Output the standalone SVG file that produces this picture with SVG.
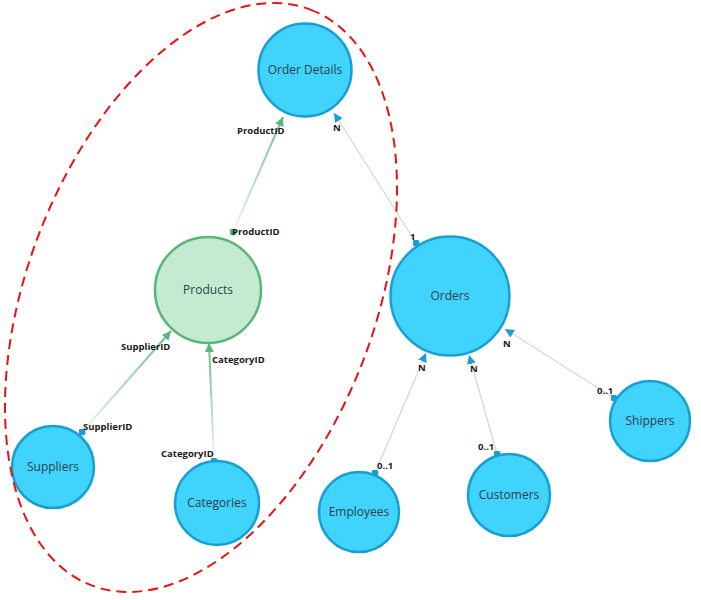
<svg xmlns="http://www.w3.org/2000/svg" width="701" height="600" viewBox="0 0 701 600">
<style>
.node-c{fill:#40d3fc;stroke:#179fd3;stroke-width:2.5}
.node-g{fill:#c3ebd0;stroke:#5ab579;stroke-width:2.5}
.nl{font-family:"Open Sans","Noto Sans",sans-serif;font-size:12px;fill:#2e3d48;text-anchor:middle}
.el{font-family:"Open Sans","Noto Sans",sans-serif;font-size:9.5px;font-weight:bold;fill:#1a1a1a}
.gray{stroke:#d4d4d4;stroke-width:1.2;fill:none}
.green{stroke-width:2;fill:none}
</style>
<defs>
<marker id="arB" viewBox="0 0 10 10" refX="10" refY="5" markerWidth="9" markerHeight="9" markerUnits="userSpaceOnUse" orient="auto"><path d="M0,0 L10,5 L0,10 Z" fill="#1b9dd6"/></marker>
<marker id="arG" viewBox="0 0 10 10" refX="10" refY="5" markerWidth="9" markerHeight="9" markerUnits="userSpaceOnUse" orient="auto"><path d="M0,0 L10,5 L0,10 Z" fill="#5ab579"/></marker>
<marker id="dB" viewBox="0 0 10 10" refX="5" refY="5" markerWidth="7" markerHeight="7" markerUnits="userSpaceOnUse"><circle cx="5" cy="5" r="5" fill="#179fd3"/></marker>
<marker id="dG" viewBox="0 0 10 10" refX="5" refY="5" markerWidth="7" markerHeight="7" markerUnits="userSpaceOnUse"><circle cx="5" cy="5" r="5" fill="#5ab579"/></marker>
<linearGradient id="g1" gradientUnits="userSpaceOnUse" x1="233" y1="232" x2="283" y2="118"><stop offset="0" stop-color="#5ab579" stop-opacity="0.1"/><stop offset="1" stop-color="#5ab579" stop-opacity="0.9"/></linearGradient>
<linearGradient id="g2" gradientUnits="userSpaceOnUse" x1="82" y1="432" x2="170" y2="332"><stop offset="0" stop-color="#5ab579" stop-opacity="0.1"/><stop offset="1" stop-color="#5ab579" stop-opacity="0.9"/></linearGradient>
<linearGradient id="g3" gradientUnits="userSpaceOnUse" x1="214" y1="461" x2="209" y2="344"><stop offset="0" stop-color="#5ab579" stop-opacity="0.1"/><stop offset="1" stop-color="#5ab579" stop-opacity="0.9"/></linearGradient>
</defs>
<rect width="701" height="600" fill="#ffffff"/>
<g id="connectors">
<line class="green" x1="233" y1="232" x2="283" y2="117" stroke="url(#g1)" marker-start="url(#dG)" marker-end="url(#arG)"/>
<line class="gray" x1="416" y1="243" x2="334" y2="113" marker-start="url(#dB)" marker-end="url(#arB)"/>
<line class="green" x1="82" y1="432" x2="171" y2="331" stroke="url(#g2)" marker-start="url(#dB)" marker-end="url(#arG)"/>
<line class="green" x1="214" y1="461" x2="209" y2="343" stroke="url(#g3)" marker-start="url(#dB)" marker-end="url(#arG)"/>
<line class="gray" x1="375" y1="473" x2="426" y2="353" marker-start="url(#dB)" marker-end="url(#arB)"/>
<line class="gray" x1="497" y1="454" x2="469" y2="355" marker-start="url(#dB)" marker-end="url(#arB)"/>
<line class="gray" x1="614" y1="398" x2="505" y2="329" marker-start="url(#dB)" marker-end="url(#arB)"/>
<text class="el" x="237" y="134">ProductID</text>
<text class="el" x="232" y="235">ProductID</text>
<text class="el" x="333" y="131">N</text>
<text class="el" x="410" y="240">1</text>
<text class="el" x="121" y="350">SupplierID</text>
<text class="el" x="83" y="430">SupplierID</text>
<text class="el" x="212" y="363">CategoryID</text>
<text class="el" x="161" y="457">CategoryID</text>
<text class="el" x="418" y="371">N</text>
<text class="el" x="377" y="469">0..1</text>
<text class="el" x="470" y="372">N</text>
<text class="el" x="478" y="450">0..1</text>
<text class="el" x="503" y="347">N</text>
<text class="el" x="597" y="394">0..1</text>
</g>
<g id="node-order-details"><circle class="node-c" cx="305" cy="70" r="46.5"/><text class="nl" x="305" y="74">Order Details</text></g>
<g id="node-products"><circle class="node-g" cx="208" cy="290" r="53"/><text class="nl" x="208" y="294">Products</text></g>
<g id="node-orders"><circle class="node-c" cx="450" cy="296" r="59.5"/><text class="nl" x="450" y="300">Orders</text></g>
<g id="node-suppliers"><circle class="node-c" cx="53" cy="467" r="41"/><text class="nl" x="53" y="471">Suppliers</text></g>
<g id="node-categories"><circle class="node-c" cx="217" cy="503" r="42"/><text class="nl" x="217" y="507">Categories</text></g>
<g id="node-employees"><circle class="node-c" cx="359" cy="512" r="40"/><text class="nl" x="359" y="516">Employees</text></g>
<g id="node-customers"><circle class="node-c" cx="509" cy="495" r="41"/><text class="nl" x="509" y="499">Customers</text></g>
<g id="node-shippers"><circle class="node-c" cx="650" cy="421" r="40"/><text class="nl" x="650" y="425">Shippers</text></g>
<ellipse cx="201" cy="297.5" rx="308" ry="174" transform="rotate(-69.2 201 297.5)" fill="none" stroke="#ee1111" stroke-width="2" stroke-dasharray="10 6"/>
</svg>
